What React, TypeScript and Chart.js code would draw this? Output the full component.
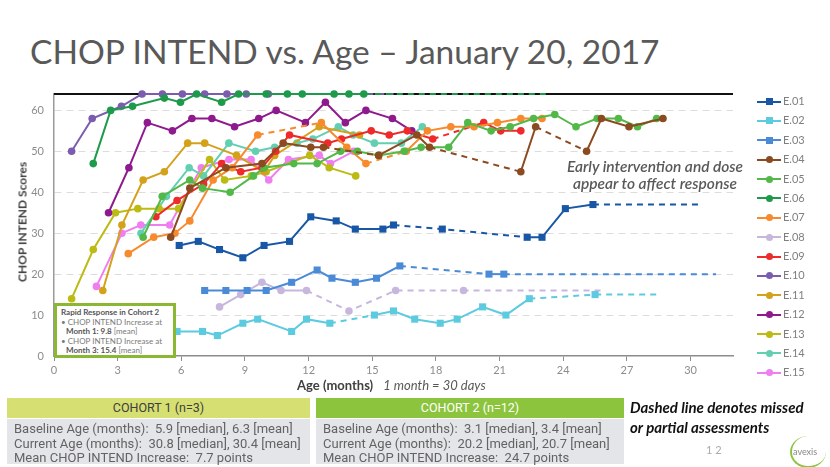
import React, { useEffect, useRef } from 'react';
import { Chart, registerables } from 'chart.js';

Chart.register(...registerables);

// ---------- tick labels ----------
const X_TICKS = [0, 3, 6, 9, 12, 15, 18, 21, 24, 27, 30];
const Y_TICKS = [0, 10, 20, 30, 40, 50, 60];
const X_MAX = 32;
const Y_MAX = 64;

// ---------- series (age in months, CHOP INTEND score) ----------
// *_missed: index of the point after which the segment is dashed (missed/partial assessments)
// *_current: current age the last score is carried (dashed) to, or null
const E01_age = [5.9, 6.8, 7.8, 8.9, 9.9, 11.1, 12.1, 13.3, 14.2, 15.5, 16.0, 18.3, 22.3, 23.0, 24.1, 25.4];
const E01_score = [27, 28, 26, 24, 27, 28, 34, 33, 31, 31, 32, 31, 29, 29, 36, 37];
const E01_missed = [10, 11];
const E01_current = 30.5;

const E02_age = [5.8, 7.0, 7.7, 8.9, 9.6, 11.2, 11.9, 13.0, 15.1, 16.0, 17.0, 18.2, 19.0, 20.2, 21.3, 22.4, 25.5];
const E02_score = [6, 6, 5, 8, 9, 6, 9, 8, 10, 11, 9, 8, 9, 12, 10, 14, 15];
const E02_missed = [7, 15];
const E02_current = 28.6;

const E03_age = [7.1, 8.1, 9.1, 10.0, 11.2, 12.4, 13.1, 14.2, 15.2, 16.3, 20.5, 21.2];
const E03_score = [16, 16, 16, 16, 18, 21, 19, 18, 19, 22, 20, 20];
const E03_missed = [9];
const E03_current = 31.2;

const E04_age = [5.5, 6.4, 8.1, 9.8, 10.8, 12.1, 12.7, 15.3, 17.1, 17.7, 22.0, 22.7, 25.1, 25.8, 27.1, 28.7];
const E04_score = [29, 41, 46, 47, 52, 51, 51, 49, 54, 51, 45, 56, 50, 58, 56, 58];
const E04_missed = [6, 9, 11];
const E04_current = null;

const E05_age = [4.2, 5.1, 6.4, 7.0, 8.3, 9.4, 9.9, 11.3, 12.4, 13.5, 14.3, 15.3, 16.5, 17.3, 18.6, 19.5, 20.6, 21.5, 22.6, 23.6, 24.6, 25.6, 26.6, 27.5, 28.4];
const E05_score = [29, 39, 43, 41, 40, 44, 46, 47, 47, 50, 50, 49, 50, 51, 51, 57, 55, 56, 58, 59, 56, 58, 58, 56, 58];
const E05_missed: number[] = [];
const E05_current = null;

const E06_age = [1.85, 2.67, 3.7, 5.2, 5.96, 6.72, 7.9, 8.7, 10.0, 11.0, 11.7, 13.2, 13.9, 14.6];
const E06_score = [47, 60, 61, 63, 62, 64, 62, 64, 64, 64, 64, 64, 64, 64];
const E06_missed: number[] = [];
const E06_current = 23.3;

const E07_age = [3.5, 4.7, 5.7, 6.4, 7.5, 8.4, 9.6, 12.6, 13.8, 14.7, 16.6, 17.6, 18.7, 19.8, 20.9, 22.0, 23.0];
const E07_score = [25, 29, 30, 33, 43, 46, 54, 57, 51, 47, 50, 55, 56, 56, 57, 58, 58];
const E07_missed = [6, 9];
const E07_current = null;

const E08_age = [7.8, 8.8, 9.8, 10.7, 11.9, 13.9, 16.1, 19.3];
const E08_score = [12, 15, 18, 16, 16, 11, 16, 16];
const E08_missed = [4, 5, 6];
const E08_current = 26.0;

const E09_age = [4.8, 5.8, 7.05, 7.9, 8.8, 9.8, 10.45, 11.1, 12.9, 13.55, 14.95, 15.8, 16.65, 17.85, 20.25, 21.05, 22.0];
const E09_score = [34, 38, 42, 47, 45, 46, 50, 54, 52, 53, 55, 54, 55, 53, 57, 55, 55];
const E09_missed = [13];
const E09_current = null;

const E10_age = [0.83, 1.8, 3.18, 4.15, 5.11, 6.05, 7.1, 8.15, 9.06, 10.1];
const E10_score = [50, 58, 61, 64, 64, 64, 64, 64, 64, 64];
const E10_missed: number[] = [];
const E10_current = 16.0;

const E11_age = [2.3, 3.2, 4.2, 5.2, 6.3, 7.1, 8.6, 9.9, 10.4, 12.5, 14.4];
const E11_score = [16, 32, 43, 45, 52, 52, 49, 45, 49, 56, 54];
const E11_missed: number[] = [];
const E11_current = null;

const E12_age = [2.57, 3.53, 4.4, 5.58, 6.5, 7.44, 8.51, 9.65, 10.47, 11.85, 12.79, 13.73, 14.7, 15.95, 16.86];
const E12_score = [35, 46, 57, 55, 58, 58, 56, 58, 60, 57, 62, 57, 60, 58, 55];
const E12_missed: number[] = [];
const E12_current = null;

const E13_age = [0.83, 1.85, 2.9, 3.95, 4.95, 5.87, 7.33, 8.04, 9.3, 10.0, 12.05, 12.97, 14.22];
const E13_score = [14, 26, 35, 36, 36, 36, 48, 43, 44, 45, 49, 46, 44];
const E13_missed: number[] = [];
const E13_current = null;

const E14_age = [4.1, 5.3, 6.37, 7.05, 8.24, 9.5, 10.4, 11.45, 12.2, 13.4, 14.1, 15.1, 16.37, 17.36];
const E14_score = [30, 39, 46, 44, 52, 50, 51, 52, 53, 56, 54, 52, 52, 56];
const E14_missed: number[] = [];
const E14_current = null;

const E15_age = [2.0, 3.2, 4.09, 5.45, 6.94, 8.25, 9.29, 10.12, 11.05, 12.5, 13.03, 14.12];
const E15_score = [17, 30, 32, 32, 46, 48, 48, 43, 48, 49, 47, 50];
const E15_missed: number[] = [];
const E15_current = null;

const SERIES_NAMES = ['E.01', 'E.02', 'E.03', 'E.04', 'E.05', 'E.06', 'E.07', 'E.08', 'E.09', 'E.10', 'E.11', 'E.12', 'E.13', 'E.14', 'E.15'];

const SERIES = [
  [E01_age, E01_score, E01_missed, E01_current],
  [E02_age, E02_score, E02_missed, E02_current],
  [E03_age, E03_score, E03_missed, E03_current],
  [E04_age, E04_score, E04_missed, E04_current],
  [E05_age, E05_score, E05_missed, E05_current],
  [E06_age, E06_score, E06_missed, E06_current],
  [E07_age, E07_score, E07_missed, E07_current],
  [E08_age, E08_score, E08_missed, E08_current],
  [E09_age, E09_score, E09_missed, E09_current],
  [E10_age, E10_score, E10_missed, E10_current],
  [E11_age, E11_score, E11_missed, E11_current],
  [E12_age, E12_score, E12_missed, E12_current],
  [E13_age, E13_score, E13_missed, E13_current],
  [E14_age, E14_score, E14_missed, E14_current],
  [E15_age, E15_score, E15_missed, E15_current],
] as [number[], number[], number[], number | null][];

// ---------- styles ----------
const COLORS = ['#1757a6', '#5ccbe0', '#4a8ad6', '#8b4a1f', '#52b848', '#1e9a4b', '#f78a2d', '#c8b7dd', '#ee2a2a', '#7b5cae', '#d4a11b', '#8e1a8e', '#bcbb14', '#62d0b0', '#f07ef0'];
const SQUARE_SERIES = ['E.01', 'E.02', 'E.03'];

const FONT = 'Lato, "Open Sans", sans-serif';

function buildDatasets() {
  return SERIES.map(([age, score, missed, current], i) => {
    const pts = age.map((a, k) => ({ x: a, y: score[k] }));
    const dashed = new Set(missed);
    if (current !== null) {
      pts.push({ x: current, y: score[score.length - 1] });
      dashed.add(pts.length - 2);
    }
    const isSquare = SQUARE_SERIES.includes(SERIES_NAMES[i]);
    const r = isSquare ? 5 : 3.8;
    return {
      label: SERIES_NAMES[i],
      data: pts,
      borderColor: COLORS[i],
      backgroundColor: COLORS[i],
      pointBackgroundColor: COLORS[i],
      pointBorderColor: COLORS[i],
      pointStyle: isSquare ? 'rect' : 'circle',
      pointRadius: pts.map((_, k) => (current !== null && k === pts.length - 1 ? 0 : r)),
      pointBorderWidth: 0,
      borderWidth: 2,
      tension: 0,
      clip: false as any,
      segment: {
        borderDash: (ctx: any) => (dashed.has(ctx.p0DataIndex) ? [6, 5] : undefined),
      },
    };
  });
}

const topLinePlugin = {
  id: 'topLine',
  beforeDatasetsDraw(chart: any) {
    const { ctx, chartArea, scales } = chart;
    const py = scales.y.getPixelForValue(Y_MAX);
    ctx.save();
    ctx.strokeStyle = '#111';
    ctx.lineWidth = 2;
    ctx.beginPath();
    ctx.moveTo(chartArea.left, py);
    ctx.lineTo(chartArea.right, py);
    ctx.stroke();
    ctx.restore();
  },
};

function ChartCanvas() {
  const ref = useRef<HTMLCanvasElement>(null);
  useEffect(() => {
    if (!ref.current) return;
    const chart = new Chart(ref.current, {
      type: 'line',
      data: { datasets: buildDatasets() as any },
      options: {
        animation: false,
        responsive: false,
        maintainAspectRatio: false,
        events: [],
        layout: { padding: { left: 0, top: 94, right: 97, bottom: 91 }, autoPadding: false } as any,
        plugins: { legend: { display: false }, tooltip: { enabled: false }, title: { display: false } },
        scales: {
          x: {
            type: 'linear',
            min: 0,
            max: X_MAX,
            afterBuildTicks: (s: any) => {
              s.ticks = X_TICKS.map((v) => ({ value: v }));
            },
            afterFit: (s: any) => {
              s.height = 20;
            },
            grid: { drawOnChartArea: false, drawTicks: true, tickLength: 5, color: '#8c8c8c', lineWidth: 1 },
            border: { color: '#8c8c8c', width: 1.5 },
            ticks: { color: '#8c8c8c', font: { family: FONT, size: 11 }, padding: 3, maxRotation: 0, autoSkip: false },
          },
          y: {
            type: 'linear',
            min: 0,
            max: Y_MAX,
            afterBuildTicks: (s: any) => {
              s.ticks = Y_TICKS.map((v) => ({ value: v }));
            },
            afterFit: (s: any) => {
              s.width = 54;
            },
            grid: {
              color: (c: any) => (c.tick && c.tick.value === 0 ? 'rgba(0,0,0,0)' : '#dcdcdc'),
              lineWidth: 1,
              drawTicks: false,
            },
            border: { color: '#9a9a9a', width: 1.5, dash: [7, 5] },
            ticks: { color: '#8c8c8c', font: { family: FONT, size: 11 }, padding: 10 },
          },
        },
      } as any,
      plugins: [topLinePlugin],
    });
    return () => chart.destroy();
  }, []);
  return <canvas ref={ref} width={830} height={467} style={{ position: 'absolute', left: 0, top: 0, width: 830, height: 467 }} />;
}

const abs = (l: number, t: number, extra: React.CSSProperties = {}): React.CSSProperties => ({
  position: 'absolute',
  left: l,
  top: t,
  whiteSpace: 'nowrap',
  ...extra,
});

function Legend() {
  return (
    <div style={abs(757, 92, { width: 70 })}>
      {SERIES_NAMES.map((n, i) => {
        const sq = SQUARE_SERIES.includes(n);
        return (
          <div key={n} style={{ position: 'relative', height: 19.39 }}>
            <div style={{ position: 'absolute', left: 0, top: 8.5, width: 24, height: 2, background: COLORS[i] }} />
            <div
              style={{
                position: 'absolute',
                left: 8.5,
                top: 6,
                width: 7,
                height: 7,
                background: COLORS[i],
                borderRadius: sq ? 0 : '50%',
              }}
            />
            <div style={{ position: 'absolute', left: 26, top: 2, fontFamily: FONT, fontSize: 11, color: '#7f7f7f', lineHeight: '14px' }}>{n}</div>
          </div>
        );
      })}
    </div>
  );
}

const boxText: React.CSSProperties = { fontFamily: 'Roboto, sans-serif', fontSize: 13, color: '#636363', lineHeight: '14.5px' };

export default function App() {
  useEffect(() => {
    document.body.style.margin = '0';
  }, []);
  return (
    <div style={{ position: 'fixed', left: 0, top: 0, width: 830, height: 467, background: '#fff', overflow: 'hidden' }}>
      <div style={abs(30, 31, { fontFamily: FONT, fontSize: 33.5, color: '#595959', lineHeight: '40px' })}>
        CHOP INTEND vs. Age – January 20, 2017
      </div>
      <ChartCanvas />
      {/* y axis title */}
      <div
        style={abs(22, 222, {
          transform: 'translate(-50%, -50%) rotate(-90deg)',
          fontFamily: FONT,
          fontWeight: 700,
          fontSize: 12,
          color: '#404040',
        })}
      >
        CHOP INTEND Scores
      </div>
      {/* x axis title */}
      <div style={abs(297, 377, { fontFamily: FONT, fontSize: 13, color: '#404040', lineHeight: '17px' })}>
        <span style={{ fontWeight: 700 }}>Age (months)</span>
        <span style={{ fontStyle: 'italic', color: '#595959', marginLeft: 10 }}>1 month = 30 days</span>
      </div>
      <Legend />
      {/* annotation */}
      <div style={abs(655, 158, { transform: 'translateX(-50%)', textAlign: 'center', fontFamily: FONT, fontStyle: 'italic', fontWeight: 600, fontSize: 15.5, color: '#595959', lineHeight: '17px' })}>
        Early intervention and dose
        <br />
        appear to affect response
      </div>
      {/* rapid response box */}
      <div
        style={abs(54, 303, {
          width: 112,
          height: 47,
          border: '3px solid #8ab832',
          background: '#fff',
          fontFamily: FONT,
          fontSize: 8,
          color: '#7a7a7a',
          lineHeight: '9.5px',
          padding: '2px 0 0 4px',
          boxSizing: 'content-box',
        })}
      >
        <div style={{ fontWeight: 700, color: '#555' }}>Rapid Response in Cohort 2</div>
        <div>• CHOP INTEND Increase at</div>
        <div style={{ paddingLeft: 5 }}>
          <b style={{ color: '#555' }}>Month 1: 9.8</b> [mean]
        </div>
        <div>• CHOP INTEND Increase at</div>
        <div style={{ paddingLeft: 5 }}>
          <b style={{ color: '#555' }}>Month 3: 15.4</b> [mean]
        </div>
      </div>
      {/* cohort 1 */}
      <div style={abs(7, 398, { width: 303, height: 20, background: '#d6df72', textAlign: 'center', fontFamily: 'Roboto, sans-serif', fontSize: 12.5, color: '#404040', lineHeight: '20px' })}>
        COHORT 1 (n=3)
      </div>
      <div style={abs(7, 419, { width: 296, height: 42, background: '#e4e5e8', padding: '3px 0 0 7px', ...boxText })}>
        <div>Baseline Age (months):&nbsp; 5.9 [median], 6.3 [mean]</div>
        <div>Current Age (months):&nbsp; 30.8 [median], 30.4 [mean]</div>
        <div>Mean CHOP INTEND Increase:&nbsp; 7.7 points</div>
      </div>
      {/* cohort 2 */}
      <div style={abs(316, 398, { width: 308, height: 20, background: '#8cc43d', textAlign: 'center', fontFamily: 'Roboto, sans-serif', fontSize: 12.5, color: '#fff', lineHeight: '20px' })}>
        COHORT 2 (n=12)
      </div>
      <div style={abs(316, 419, { width: 301, height: 42, background: '#e4e5e8', padding: '3px 0 0 7px', ...boxText })}>
        <div>Baseline Age (months):&nbsp; 3.1 [median], 3.4 [mean]</div>
        <div>Current Age (months):&nbsp; 20.2 [median], 20.7 [mean]</div>
        <div>Mean CHOP INTEND Increase:&nbsp; 24.7 points</div>
      </div>
      <div style={abs(630, 397, { fontFamily: FONT, fontStyle: 'italic', fontWeight: 700, fontSize: 15, color: '#111', lineHeight: '20px' })}>
        Dashed line denotes missed
        <br />
        or partial assessments
      </div>
      <div style={abs(706, 443, { fontFamily: FONT, fontSize: 11, color: '#aaa' })}>1 2</div>
      <div style={abs(790, 436, { width: 34, height: 30, borderRadius: '50%', borderLeft: '2px solid #8cc43d', borderBottom: '2px solid #8cc43d' })} />
      <div style={abs(793, 446, { fontFamily: FONT, fontSize: 9, color: '#888' })}>avexis</div>
    </div>
  );
}
